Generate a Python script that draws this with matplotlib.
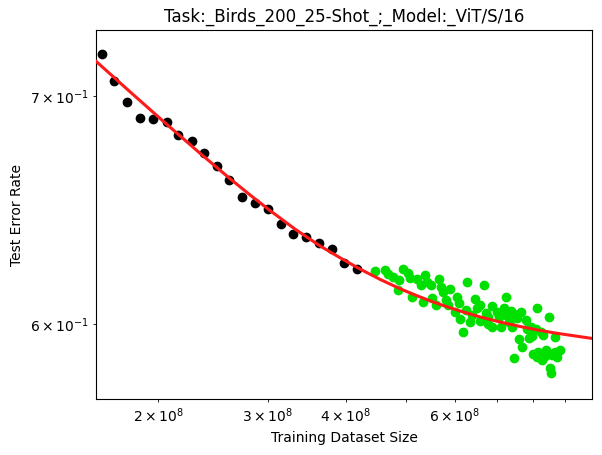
import matplotlib
matplotlib.use("Agg")
import matplotlib.pyplot as plt

title = "Task:_Birds_200_25-Shot_;_Model:_ViT/S/16"
xlabel = "Training Dataset Size"
ylabel = "Test Error Rate"

# black points (used for fit)
black_x = [1.6256e8, 1.6975e8, 1.7845e8, 1.8711e8, 1.9611e8, 2.0632e8, 2.1537e8,
           2.2632e8, 2.3713e8, 2.4882e8, 2.6012e8, 2.7264e8, 2.8609e8, 3.0052e8,
           3.1499e8, 3.2930e8, 3.4587e8, 3.6299e8, 3.8116e8, 3.9803e8, 4.1764e8]
black_y = [0.7201, 0.7070, 0.6972, 0.6895, 0.6891, 0.6877, 0.6815,
           0.6789, 0.6734, 0.6676, 0.6612, 0.6537, 0.6511, 0.6484,
           0.6418, 0.6375, 0.6362, 0.6336, 0.6311, 0.6251, 0.6226]

# green points (held out)
green_x = [4.461e8, 4.629e8, 4.686e8, 4.774e8, 4.881e8, 4.863e8, 4.943e8, 5.046e8,
           5.078e8, 5.110e8, 5.206e8, 5.283e8, 5.334e8, 5.368e8, 5.402e8, 5.482e8,
           5.503e8, 5.591e8, 5.653e8, 5.689e8, 5.731e8, 5.802e8, 5.852e8, 5.888e8,
           6.000e8, 6.036e8, 6.088e8, 6.111e8, 6.186e8, 6.248e8, 6.278e8, 6.341e8,
           6.395e8, 6.459e8, 6.515e8, 6.580e8, 6.686e8, 6.728e8, 6.785e8, 6.879e8,
           6.887e8, 7.000e8, 7.067e8, 7.104e8, 7.191e8, 7.237e8, 7.245e8, 7.326e8,
           7.372e8, 7.416e8, 7.463e8, 7.463e8, 7.554e8, 7.594e8, 7.650e8, 7.687e8,
           7.793e8, 7.839e8, 7.880e8, 7.939e8, 7.986e8, 8.015e8, 8.087e8, 8.135e8,
           8.135e8, 8.238e8, 8.269e8, 8.318e8, 8.392e8, 8.495e8, 8.549e8, 8.599e8,
           8.696e8, 8.760e8, 8.848e8, 6.580e8, 6.785e8,
           8.156e8, 8.370e8, 8.479e8, 8.686e8, 8.511e8]
green_y = [0.6218, 0.6223, 0.6206, 0.6195, 0.6181, 0.6137, 0.6226, 0.6212,
           0.6188, 0.6112, 0.6184, 0.6160, 0.6091, 0.6202, 0.6174, 0.6160,
           0.6105, 0.6078, 0.6184, 0.6153, 0.6132, 0.6098, 0.6078, 0.6142,
           0.6050, 0.6112, 0.6085, 0.6020, 0.5969, 0.6057, 0.6173, 0.6009,
           0.6037, 0.6101, 0.6064, 0.6013, 0.6160, 0.6044, 0.6000, 0.6073,
           0.5989, 0.6050, 0.6030, 0.5989, 0.6064, 0.6037, 0.6112, 0.6009,
           0.6054, 0.5989, 0.6041, 0.5862, 0.6023, 0.5941, 0.6050, 0.5909,
           0.6016, 0.5980, 0.5942, 0.5989, 0.5953, 0.5880, 0.5981, 0.6064,
           0.5869, 0.5969, 0.5856, 0.5954, 0.5895, 0.6027, 0.5803, 0.5876,
           0.5949, 0.5869, 0.5895, 0.6078, 0.6030,
           0.5888, 0.5872, 0.5883, 0.5888, 0.5822]

# fitted curve
curve_x = [1.590e8, 1.801e8, 2.050e8, 2.334e8, 2.608e8, 2.809e8, 3.025e8, 3.317e8,
           3.639e8, 3.920e8, 4.221e8, 4.545e8, 4.893e8, 5.173e8, 5.469e8, 5.781e8,
           6.111e8, 6.579e8, 7.087e8, 7.632e8, 8.217e8, 8.686e8, 9.182e8, 9.950e8]
curve_y = [0.71642, 0.70194, 0.68738, 0.67335, 0.66189, 0.65464, 0.64777, 0.63972,
           0.63249, 0.62742, 0.62265, 0.61833, 0.61445, 0.61184, 0.60944, 0.60726,
           0.60526, 0.60285, 0.60077, 0.59895, 0.59737, 0.59632, 0.59543, 0.59415]

fig = plt.figure(figsize=(6.02, 4.55), dpi=100)
ax = fig.add_axes([96.3 / 602, 56 / 455, 495.4 / 602, 368.7 / 455])

ax.scatter(black_x, black_y, color="black", s=36, zorder=2)
ax.scatter(green_x, green_y, color="#00e000", s=36, zorder=2)
ax.plot(curve_x, curve_y, color="#ff1a1a", linewidth=2.2, zorder=3)

ax.set_xscale("log")
ax.set_yscale("log")
ax.set_xlim(1.590e8, 9.95e8)
ax.set_ylim(0.5703, 0.7317)
ax.set_title(title)
ax.set_xlabel(xlabel)
ax.set_ylabel(ylabel)

fig.savefig("out.png", dpi=100)
